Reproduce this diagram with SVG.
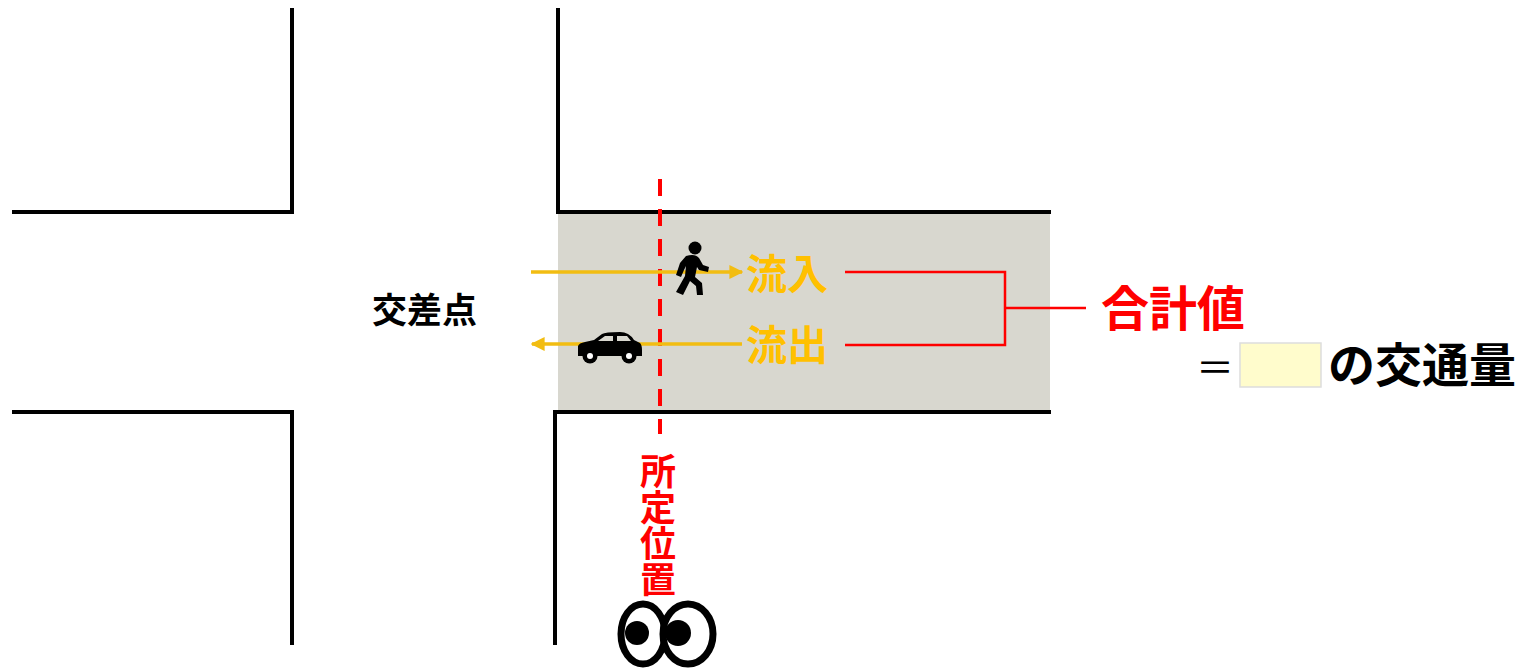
<svg xmlns="http://www.w3.org/2000/svg" width="1525" height="671" viewBox="0 0 1525 671">
  <style>
    .wall{fill:none;stroke:#000;stroke-width:4;stroke-linecap:square}
    .flow{stroke:#f2bd12;stroke-width:3.5;fill:none}
    .red{stroke:#ff0000;stroke-width:2.5;fill:none}
    .jp{font-family:"Noto Sans CJK JP","Noto Sans",sans-serif;font-weight:bold}
  </style>
  <defs>
    <marker id="ah" viewBox="0 0 10 10" refX="9" refY="5" markerWidth="4" markerHeight="4" orient="auto-start-reverse" markerUnits="strokeWidth">
      <path d="M0,0 L10,5 L0,10 z" fill="#f2bd12"/>
    </marker>
  </defs>
  <rect width="1525" height="671" fill="#fff"/>

  <!-- road surface of the branch street -->
  <rect id="road" x="558" y="212" width="492" height="200" fill="#d8d7cf"/>

  <!-- kerb lines -->
  <g id="kerbs">
    <path class="wall" d="M292,10 V212 H14"/>
    <path class="wall" d="M14,412 H292 V643"/>
    <path class="wall" d="M558,10 V212 H1049"/>
    <path class="wall" d="M1049,412 H555 V643"/>
  </g>

  <!-- counting line -->
  <line id="count-line" x1="660" y1="179" x2="660" y2="434" stroke="#ff0000" stroke-width="4" stroke-dasharray="17 13"/>

  <g id="connectors">
    <line class="flow" x1="531" y1="272" x2="742" y2="272" marker-end="url(#ah)"/>
    <line class="flow" x1="742" y1="344" x2="532" y2="344" marker-end="url(#ah)"/>
    <path class="red" d="M845,272 H1005 V345 H845 M1005,308 H1086"/>
  </g>

  <!-- pedestrian -->
  <g id="pedestrian" fill="#000">
    <circle cx="695" cy="248" r="6.5"/>
    <path d="M686,256 Q695,253 699,258 L703,265 L709,267 L708,272 L699,270 L697,267 L695,277 L702,283 L703,295 L697,295 L696,286 L690,281 L683,295 L676,292 L685,276 L686,266 L684,270 L681,277 L676,275 L680,263 Z"/>
  </g>

  <!-- car -->
  <g id="car" fill="#000">
    <path d="M578,356 V346 Q579,343 585,342 L594,340 L602,334 Q605,332 620,332 Q629,332 634,340 L640,343 Q642,345 642,350 V356 Z M605,336 L598,341 L613,341 L613,336 Z M617,336 V341 L631,341 L627,336 Z" fill-rule="evenodd"/>
    <circle cx="590" cy="356" r="7.5"/>
    <circle cx="629" cy="356" r="7.5"/>
    <circle cx="590" cy="356" r="3" fill="#fff"/>
    <circle cx="629" cy="356" r="3" fill="#fff"/>
  </g>

  <!-- labels -->
  <g id="label-in"><text class="jp" x="746" y="289" font-size="41" fill="#ffc000">流入</text></g>
  <g id="label-out"><text class="jp" x="746" y="360" font-size="41" fill="#ffc000">流出</text></g>
  <g id="label-sum"><text class="jp" x="1101" y="326" font-size="48" fill="#ff0000">合計値</text></g>
  <g id="label-volume">
    <text x="1196" y="381" font-family="Noto Sans CJK JP, sans-serif" font-size="38" fill="#000">＝</text>
    <rect x="1240" y="343" width="81" height="44" fill="#fffccc" stroke="#dddddd" stroke-width="1.5"/>
    <text class="jp" x="1328" y="382" font-size="47" fill="#000">の交通量</text>
  </g>
  <g id="label-intersection"><text class="jp" x="372" y="323" font-size="35" fill="#000">交差点</text></g>
  <g id="label-position">
    <text class="jp" x="658" y="453" font-size="36" fill="#ff0000" style="writing-mode:vertical-rl">所定位置</text>
  </g>

  <!-- observer eyes -->
  <g id="eyes">
    <ellipse cx="643" cy="634" rx="22" ry="30" fill="#fff" stroke="#000" stroke-width="7"/>
    <circle cx="637" cy="633" r="12" fill="#000"/>
    <ellipse cx="688" cy="634" rx="25" ry="30" fill="#fff" stroke="#000" stroke-width="7"/>
    <circle cx="678" cy="633" r="13" fill="#000"/>
  </g>
</svg>
